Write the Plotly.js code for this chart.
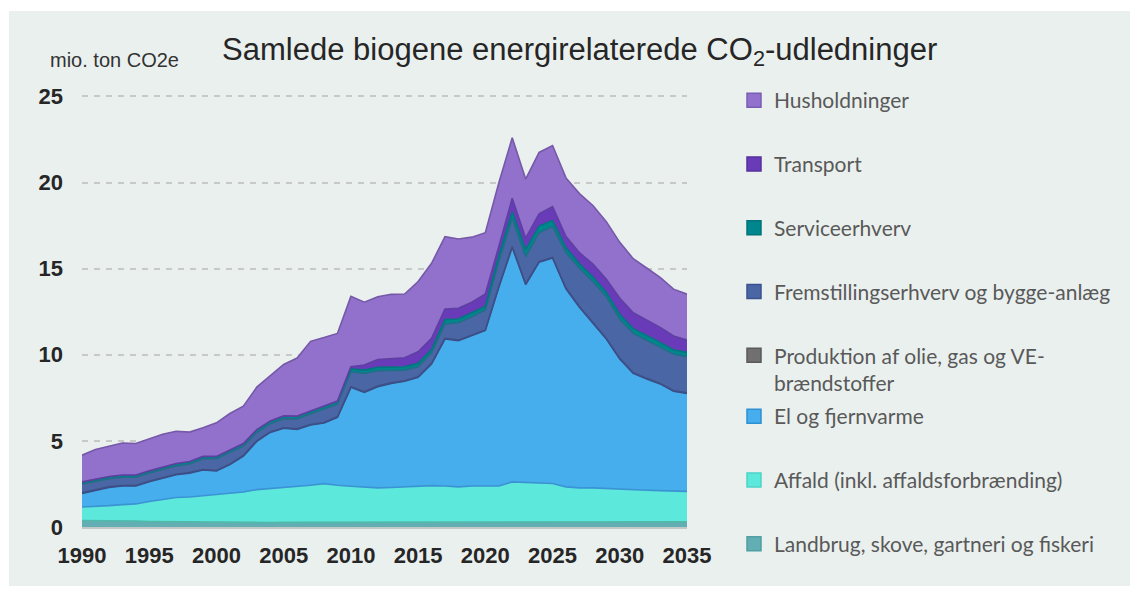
<!DOCTYPE html>
<html>
<head>
<meta charset="utf-8">
<script src="https://cdn.plot.ly/plotly-3.0.1.min.js"></script>
<style>
html,body{margin:0;padding:0;background:#ffffff;}
#chart{width:1130px;height:590px;}
</style>
</head>
<body>
<div id="chart"></div>
<script>
// ---------------- DATA (mio. ton CO2e) ----------------
const years = [1990,1991,1992,1993,1994,1995,1996,1997,1998,1999,
               2000,2001,2002,2003,2004,2005,2006,2007,2008,2009,
               2010,2011,2012,2013,2014,2015,2016,2017,2018,2019,
               2020,2021,2022,2023,2024,2025,2026,2027,2028,2029,
               2030,2031,2032,2033,2034,2035];
const xTicks = [1990,1995,2000,2005,2010,2015,2020,2025,2030,2035];
const yTicks = [0,5,10,15,20,25];

const landbrug = [0.38,0.38,0.37,0.36,0.34,0.32,0.31,0.30,0.29,0.28,
                  0.27,0.25,0.25,0.26,0.26,0.27,0.27,0.27,0.27,0.27,
                  0.27,0.27,0.27,0.27,0.27,0.28,0.28,0.28,0.28,0.29,
                  0.29,0.29,0.30,0.30,0.30,0.31,0.31,0.31,0.31,0.31,
                  0.31,0.31,0.30,0.30,0.30,0.30];
const affald = [0.78,0.80,0.87,0.94,1.00,1.16,1.28,1.41,1.45,1.54,
                1.61,1.69,1.78,1.91,1.97,2.02,2.06,2.15,2.25,2.15,
                2.10,2.06,2.00,2.02,2.06,2.10,2.12,2.10,2.05,2.09,
                2.09,2.09,2.32,2.30,2.28,2.22,2.02,1.96,1.96,1.92,
                1.88,1.82,1.83,1.81,1.79,1.77];
const elFjernvarme = [0.79,0.96,1.06,1.08,1.04,1.15,1.25,1.32,1.39,1.49,
                      1.37,1.68,2.09,2.80,3.26,3.44,3.34,3.50,3.52,3.95,
                      5.74,5.49,5.88,6.05,6.13,6.31,7.07,8.54,8.49,8.74,
                      9.03,11.54,13.63,11.48,12.80,13.09,11.50,10.49,9.56,8.69,
                      7.57,6.79,6.47,6.20,5.79,5.69];
const produktion = [0.03,0.03,0.03,0.03,0.03,0.03,0.03,0.03,0.03,0.03,
                    0.03,0.03,0.03,0.03,0.03,0.03,0.03,0.03,0.03,0.03,
                    0.03,0.03,0.03,0.03,0.03,0.03,0.03,0.03,0.03,0.03,
                    0.03,0.03,0.03,0.03,0.03,0.03,0.03,0.03,0.03,0.03,
                    0.03,0.03,0.03,0.03,0.03,0.03];
const fremstilling = [0.52,0.48,0.48,0.48,0.48,0.47,0.49,0.49,0.50,0.62,
                      0.68,0.67,0.55,0.50,0.48,0.53,0.58,0.62,0.78,0.74,
                      0.87,1.07,0.89,0.74,0.62,0.58,0.62,0.84,1.01,1.06,
                      1.16,1.46,1.65,1.59,1.68,1.80,2.07,2.23,2.39,2.42,
                      2.27,2.29,2.22,2.13,2.13,2.09];
const service = [0.12,0.12,0.12,0.13,0.13,0.13,0.13,0.14,0.14,0.14,
                 0.14,0.14,0.15,0.16,0.16,0.16,0.16,0.16,0.17,0.17,
                 0.17,0.19,0.20,0.19,0.19,0.20,0.19,0.25,0.22,0.23,
                 0.21,0.30,0.36,0.40,0.38,0.34,0.28,0.26,0.27,0.25,
                 0.28,0.28,0.28,0.25,0.24,0.26];
const transport = [0,0,0,0,0,0,0,0,0,0,
                   0,0,0,0,0,0,0,0,0,0,
                   0.12,0.29,0.46,0.49,0.53,0.67,0.64,0.62,0.62,0.61,
                   0.72,0.57,0.80,0.67,0.71,0.81,0.65,0.65,0.74,0.76,
                   0.94,0.92,0.89,0.87,0.81,0.71];
const husholdninger = [1.55,1.73,1.76,1.86,1.83,1.84,1.89,1.87,1.71,1.66,
                       1.95,2.13,2.17,2.46,2.64,2.99,3.37,4.05,3.98,3.93,
                       4.09,3.65,3.64,3.72,3.70,4.08,4.36,4.20,4.02,3.78,
                       3.56,3.69,3.51,3.43,3.57,3.55,3.41,3.43,3.41,3.35,
                       3.25,3.14,3.02,2.91,2.72,2.67];

// ---------------- STYLE ----------------
const series = [
  {name:'Landbrug, skove, gartneri og fiskeri', y:landbrug, fill:'#62aeb2', line:'#4fb9ab', legend:'legend2'},
  {name:'Affald (inkl. affaldsforbrænding)', y:affald, fill:'#5ce8da', line:'#3b93d3', legend:'legend2'},
  {name:'El og fjernvarme', y:elFjernvarme, fill:'#46aeed', line:'#3c4f86', legend:'legend2'},
  {name:'Produktion af olie, gas og VE-<br>brændstoffer', y:produktion, fill:'#707070', line:'#3c4f86', legend:'legend'},
  {name:'Fremstillingserhverv og bygge-anlæg', y:fremstilling, fill:'#4a66a5', line:'#1f6f86', legend:'legend'},
  {name:'Serviceerhverv', y:service, fill:'#00868d', line:'#00777e', legend:'legend'},
  {name:'Transport', y:transport, fill:'#6a3bb8', line:'#5e3fa2', legend:'legend'},
  {name:'Husholdninger', y:husholdninger, fill:'#9171cc', line:'#7658a8', legend:'legend'}
];
const legendBorder = ['#4f9fa3','#4cd3c6','#2f8fd3','#5a5a5a','#3a5290','#00747a','#55309a','#7a5cb5'];

const traces = [];
series.forEach(s => {
  traces.push({
    type:'scatter', x:years, y:s.y, name:s.name, stackgroup:'one',
    mode:'lines', line:{color:s.line, width:1.6}, fillcolor:s.fill,
    showlegend:false, hoverinfo:'skip'
  });
});
// legend proxies (square swatches), top-down order
for (let i = series.length - 1; i >= 0; i--) {
  const s = series[i];
  traces.push({
    type:'scatter', x:[null], y:[null], name:s.name, mode:'markers',
    marker:{symbol:'square', size:14, color:s.fill, line:{color:legendBorder[i], width:1.5}},
    legend:s.legend, legendgroup:'g'+i, showlegend:true, hoverinfo:'skip'
  });
}

// plot area geometry
const L = 82, R = 443, T = 93, B = 63;
const W = 1130 - L - R, H = 590 - T - B;
const px2paperX = px => (px - L) / W;
const px2paperY = py => (590 - B - py) / H;

const tickFont = {family:'Arial, "Liberation Sans", sans-serif', size:22, color:'#262626', weight:'bold'};
const legFont = {family:'Lato, "Open Sans", sans-serif', size:21, color:'#595959'};

const layout = {
  width:1130, height:590,
  margin:{l:L, r:R, t:T, b:B, pad:0},
  paper_bgcolor:'#ffffff',
  plot_bgcolor:'rgba(0,0,0,0)',
  showlegend:true,
  title:{
    text:'Samlede biogene energirelaterede CO<sub>2</sub>-udledninger',
    font:{family:'Arial, "Liberation Sans", sans-serif', size:31, color:'#262626'},
    xref:'container', yref:'container', x:0.513, xanchor:'center', y:1-49/590, yanchor:'middle'
  },
  xaxis:{
    range:[1990,2035], tickvals:xTicks, ticktext:xTicks.map(String),
    showgrid:false, zeroline:false, showline:true, linecolor:'#c3c8c8', linewidth:2,
    ticks:'', tickfont:tickFont, ticklabelstandoff:8, fixedrange:true
  },
  yaxis:{
    range:[0,25.2], tickvals:yTicks, ticktext:yTicks.map(String),
    showgrid:true, gridcolor:'#c6c9c8', gridwidth:2, griddash:'6px,6px',
    zeroline:false, showline:false, ticks:'', tickfont:tickFont, ticklabelstandoff:18, fixedrange:true
  },
  legend:{
    xref:'container', yref:'container', x:734/1130, xanchor:'left', y:1-80/590, yanchor:'top',
    bgcolor:'rgba(0,0,0,0)', borderwidth:0, font:legFont, traceorder:'grouped',
    tracegroupgap:33.5, valign:'top', maxheight:420, itemclick:false, itemdoubleclick:false
  },
  legend2:{
    xref:'container', yref:'container', x:734/1130, xanchor:'left', y:1-396/590, yanchor:'top',
    bgcolor:'rgba(0,0,0,0)', borderwidth:0, font:legFont, traceorder:'grouped',
    tracegroupgap:33.5, valign:'top', maxheight:300, itemclick:false, itemdoubleclick:false
  },
  annotations:[{
    text:'mio. ton CO2e', showarrow:false, xref:'paper', yref:'paper',
    x:px2paperX(48), xanchor:'left', y:px2paperY(60), yanchor:'middle',
    font:{family:'Arial, "Liberation Sans", sans-serif', size:20, color:'#333333'}
  }],
  shapes:[{
    type:'rect', layer:'below', xref:'paper', yref:'paper',
    x0:px2paperX(9), x1:px2paperX(1131), y0:px2paperY(586), y1:px2paperY(11),
    fillcolor:'#eaf0ee', line:{width:0}
  }]
};

Plotly.newPlot('chart', traces, layout, {displayModeBar:false, staticPlot:true});
</script>
</body>
</html>
